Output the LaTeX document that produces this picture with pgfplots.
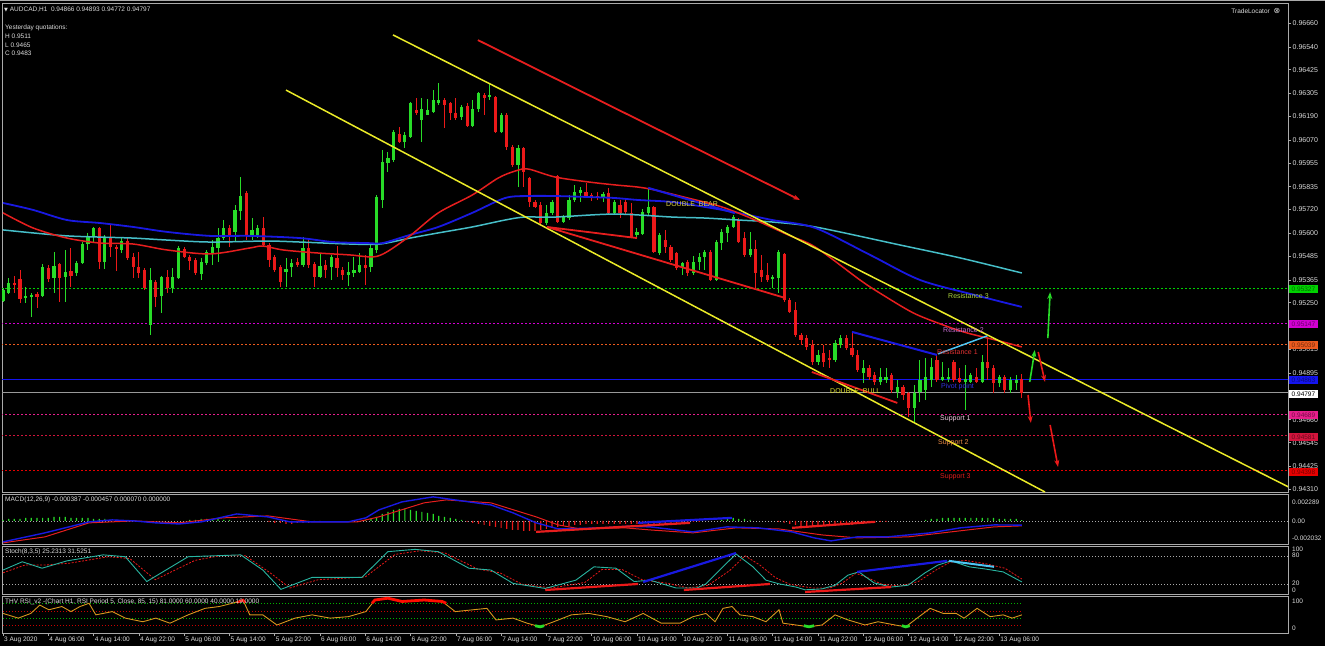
\documentclass[border=0pt]{standalone}
\usepackage{fontspec}
\setmainfont{Liberation Sans}
\newfontfamily\dejavu{DejaVu Sans}
\usepackage{pgfplots}
\usepackage{pgfplotstable}
\pgfplotsset{compat=1.18}
\usetikzlibrary{arrows.meta}

\definecolor{upc}{RGB}{40,220,40}
\definecolor{dnc}{RGB}{235,25,25}
\definecolor{mared}{RGB}{230,30,30}
\definecolor{mablue}{RGB}{25,25,225}
\definecolor{macyan}{RGB}{70,190,200}
\definecolor{yel}{RGB}{235,235,40}
\definecolor{frm}{RGB}{170,170,170}
\definecolor{txt}{RGB}{220,220,220}
\definecolor{r3c}{RGB}{0,210,0}
\definecolor{r2c}{RGB}{210,0,210}
\definecolor{r1c}{RGB}{235,90,30}
\definecolor{pvc}{RGB}{20,20,240}
\definecolor{s1c}{RGB}{230,30,140}
\definecolor{s2c}{RGB}{210,20,60}
\definecolor{s3c}{RGB}{230,0,0}
\definecolor{stm}{RGB}{40,180,160}
\definecolor{rsic}{RGB}{215,150,30}

\newcommand\sm{\fontsize{6.5}{7.5}\selectfont}
\newcommand\md{\fontsize{7}{8}\selectfont}

% AUDCAD H1 candles: k (bar index from 3 Aug 22:00), open, high, low, close
\pgfplotstableread{
k O H L C
0 0.95259 0.95325 0.95254 0.95314
1 0.95299 0.95375 0.95294 0.95350
4 0.95274 0.95330 0.95249 0.95284
5 0.95279 0.95299 0.95178 0.95289
7 0.95284 0.95445 0.95279 0.95430
9 0.95375 0.95506 0.95299 0.95435
11 0.95380 0.95516 0.95254 0.95405
13 0.95400 0.95461 0.95385 0.95450
14 0.95450 0.95556 0.95445 0.95546
15 0.95546 0.95602 0.95516 0.95581
16 0.95581 0.95632 0.95556 0.95627
18 0.95456 0.95592 0.95420 0.95576
21 0.95516 0.95576 0.95501 0.95561
26 0.95138 0.95425 0.95088 0.95365
28 0.95284 0.95385 0.95199 0.95380
30 0.95325 0.95425 0.95299 0.95380
31 0.95375 0.95536 0.95370 0.95526
35 0.95395 0.95476 0.95365 0.95456
36 0.95450 0.95516 0.95440 0.95506
37 0.95501 0.95566 0.95440 0.95531
38 0.95526 0.95627 0.95456 0.95576
39 0.95576 0.95667 0.95566 0.95627
41 0.95607 0.95743 0.95556 0.95718
42 0.95713 0.95884 0.95667 0.95788
44 0.95581 0.95677 0.95566 0.95617
45 0.95592 0.95642 0.95576 0.95627
50 0.95405 0.95476 0.95330 0.95420
51 0.95430 0.95471 0.95380 0.95450
53 0.95440 0.95581 0.95430 0.95526
56 0.95380 0.95501 0.95375 0.95435
58 0.95430 0.95491 0.95365 0.95481
61 0.95390 0.95456 0.95335 0.95405
62 0.95400 0.95481 0.95380 0.95415
63 0.95405 0.95501 0.95400 0.95440
65 0.95430 0.95541 0.95405 0.95526
66 0.95516 0.95793 0.95501 0.95783
67 0.95768 0.96020 0.95728 0.95960
68 0.95955 0.96010 0.95909 0.95980
69 0.95970 0.96121 0.95960 0.96111
71 0.96060 0.96111 0.96030 0.96096
72 0.96086 0.96262 0.96081 0.96257
74 0.96171 0.96282 0.96060 0.96227
75 0.96196 0.96277 0.96196 0.96222
76 0.96212 0.96322 0.96207 0.96272
77 0.96257 0.96358 0.96247 0.96272
81 0.96186 0.96247 0.96171 0.96237
83 0.96141 0.96272 0.96136 0.96227
84 0.96227 0.96312 0.96212 0.96307
86 0.96287 0.96358 0.96272 0.96297
88 0.96111 0.96207 0.96106 0.96196
91 0.95944 0.96045 0.95833 0.96030
96 0.95652 0.95743 0.95642 0.95703
97 0.95703 0.95768 0.95692 0.95758
99 0.95657 0.95692 0.95652 0.95682
100 0.95677 0.95793 0.95667 0.95768
101 0.95768 0.95844 0.95758 0.95808
102 0.95803 0.95833 0.95758 0.95818
106 0.95783 0.95808 0.95758 0.95798
108 0.95703 0.95768 0.95692 0.95758
112 0.95592 0.95627 0.95576 0.95607
113 0.95597 0.95723 0.95592 0.95708
114 0.95703 0.95828 0.95692 0.95733
116 0.95501 0.95602 0.95491 0.95592
120 0.95425 0.95456 0.95390 0.95450
122 0.95400 0.95486 0.95390 0.95456
123 0.95456 0.95501 0.95415 0.95481
124 0.95481 0.95516 0.95415 0.95506
126 0.95365 0.95566 0.95360 0.95556
127 0.95551 0.95622 0.95516 0.95607
128 0.95602 0.95642 0.95556 0.95632
129 0.95632 0.95692 0.95627 0.95682
132 0.95491 0.95607 0.95481 0.95521
136 0.95370 0.95390 0.95325 0.95380
137 0.95375 0.95516 0.95299 0.95506
144 0.94952 0.95012 0.94936 0.94987
147 0.94962 0.95062 0.94952 0.95047
148 0.95037 0.95088 0.95022 0.95072
152 0.94896 0.94962 0.94846 0.94921
155 0.94851 0.94921 0.94836 0.94876
156 0.94861 0.94921 0.94846 0.94876
158 0.94800 0.94861 0.94770 0.94825
161 0.94720 0.94836 0.94649 0.94795
162 0.94800 0.94962 0.94750 0.94861
163 0.94810 0.94972 0.94760 0.94876
164 0.94861 0.94972 0.94826 0.94926
166 0.94861 0.94952 0.94856 0.94876
167 0.94866 0.94921 0.94851 0.94876
170 0.94851 0.94936 0.94710 0.94866
171 0.94851 0.94896 0.94846 0.94886
173 0.94851 0.94987 0.94846 0.94952
176 0.94846 0.94886 0.94826 0.94876
178 0.94810 0.94876 0.94795 0.94861
179 0.94846 0.94886 0.94810 0.94861
}\upt

\pgfplotstableread{
k O H L C
2 0.95350 0.95385 0.95299 0.95340
3 0.95370 0.95415 0.95249 0.95269
6 0.95294 0.95304 0.95224 0.95279
8 0.95425 0.95440 0.95355 0.95370
10 0.95445 0.95450 0.95254 0.95375
12 0.95410 0.95526 0.95330 0.95385
17 0.95627 0.95632 0.95420 0.95456
19 0.95576 0.95642 0.95481 0.95531
20 0.95531 0.95541 0.95410 0.95521
22 0.95561 0.95576 0.95466 0.95476
23 0.95481 0.95501 0.95375 0.95430
24 0.95430 0.95506 0.95375 0.95400
25 0.95415 0.95425 0.95314 0.95325
27 0.95355 0.95365 0.95229 0.95279
29 0.95380 0.95415 0.95299 0.95325
32 0.95521 0.95531 0.95476 0.95481
33 0.95481 0.95491 0.95415 0.95461
34 0.95466 0.95476 0.95390 0.95400
40 0.95627 0.95642 0.95531 0.95581
43 0.95803 0.95813 0.95566 0.95592
46 0.95627 0.95682 0.95531 0.95541
47 0.95541 0.95551 0.95430 0.95466
48 0.95481 0.95491 0.95405 0.95415
49 0.95430 0.95440 0.95330 0.95355
52 0.95456 0.95476 0.95430 0.95440
54 0.95526 0.95566 0.95425 0.95440
55 0.95445 0.95456 0.95330 0.95380
57 0.95440 0.95466 0.95375 0.95415
59 0.95476 0.95536 0.95380 0.95425
60 0.95415 0.95430 0.95365 0.95390
64 0.95440 0.95491 0.95340 0.95425
70 0.96101 0.96136 0.96055 0.96060
73 0.96222 0.96282 0.96196 0.96207
78 0.96272 0.96282 0.96131 0.96247
79 0.96257 0.96262 0.96171 0.96207
80 0.96207 0.96282 0.96171 0.96181
82 0.96242 0.96257 0.96136 0.96141
85 0.96297 0.96307 0.96196 0.96282
87 0.96287 0.96292 0.96106 0.96111
89 0.96196 0.96207 0.96020 0.96035
90 0.96035 0.96045 0.95934 0.95944
92 0.96030 0.96035 0.95833 0.95909
93 0.95879 0.95884 0.95733 0.95758
94 0.95758 0.95768 0.95728 0.95733
95 0.95743 0.95758 0.95642 0.95652
98 0.95889 0.95894 0.95652 0.95657
103 0.95808 0.95854 0.95778 0.95783
104 0.95793 0.95803 0.95763 0.95783
105 0.95788 0.95808 0.95768 0.95778
107 0.95803 0.95828 0.95697 0.95703
109 0.95743 0.95768 0.95677 0.95703
110 0.95758 0.95778 0.95692 0.95708
111 0.95703 0.95753 0.95576 0.95581
115 0.95733 0.95738 0.95501 0.95506
117 0.95566 0.95617 0.95501 0.95531
118 0.95531 0.95541 0.95456 0.95466
119 0.95501 0.95506 0.95415 0.95425
121 0.95456 0.95466 0.95385 0.95400
125 0.95506 0.95516 0.95360 0.95365
130 0.95667 0.95677 0.95551 0.95556
131 0.95576 0.95607 0.95481 0.95491
133 0.95521 0.95566 0.95325 0.95400
134 0.95415 0.95491 0.95355 0.95380
135 0.95390 0.95450 0.95355 0.95365
138 0.95496 0.95501 0.95254 0.95264
139 0.95264 0.95274 0.95199 0.95204
140 0.95214 0.95254 0.95078 0.95088
141 0.95088 0.95098 0.95037 0.95062
142 0.95072 0.95088 0.95012 0.95027
143 0.95037 0.95062 0.94936 0.94952
145 0.94997 0.95037 0.94926 0.94952
146 0.94972 0.95012 0.94921 0.94962
149 0.95072 0.95088 0.95012 0.95022
150 0.95022 0.95103 0.94977 0.94987
151 0.94987 0.95012 0.94901 0.94911
153 0.94921 0.94936 0.94861 0.94876
154 0.94886 0.94901 0.94836 0.94851
157 0.94886 0.94896 0.94795 0.94810
159 0.94825 0.94836 0.94760 0.94785
160 0.94795 0.94800 0.94674 0.94720
165 0.94962 0.94987 0.94851 0.94861
168 0.94952 0.94962 0.94851 0.94861
169 0.94871 0.94921 0.94846 0.94851
172 0.94876 0.94921 0.94846 0.94851
174 0.94952 0.95078 0.94861 0.94921
175 0.94921 0.94936 0.94795 0.94846
177 0.94876 0.94886 0.94795 0.94810
180 0.94866 0.94893 0.94772 0.94797
}\dnt

\pgfplotsset{
  mt/.style={scale only axis, width=1286pt, xmin=-0.18, xmax=227.03,
    axis line style={draw=frm, line width=0.8pt}, xtick=\empty, ytick=\empty},
  wick/.style={draw=none, mark=none, forget plot, error bars/.cd, y dir=both, y explicit,
    error mark=none, error bar style={draw=#1, line width=0.9pt}},
  body/.style={draw=none, mark=none, forget plot, error bars/.cd, y dir=both, y explicit,
    error mark=none, error bar style={draw=#1, line width=3.2pt}},
  lvl/.style={#1, line width=0.8pt, dash pattern=on 2pt off 2pt},
  dots/.style={#1, line width=0.7pt, dash pattern=on 1pt off 2pt},
}

\begin{document}
\begin{tikzpicture}[x=1pt, y=1pt]
\useasboundingbox (0,0) rectangle (1325,646);
\fill[black] (0,0) rectangle (1325,646);
\draw[frm, line width=1pt] (0,645) -- (1325,645);

% ---------- main price window ----------
% tick labels hidden behind the level boxes (0.95130, 0.94780) are left out
\begin{axis}[mt, at={(2pt,154pt)}, anchor=south west, height=489pt,
  ymin=0.94296, ymax=0.96761,
  ytick={0.96660,0.96540,0.96425,0.96305,0.96190,0.96070,0.95955,0.95835,0.95720,0.95600,0.95485,0.95365,0.95250,0.95130,0.95015,0.94895,0.94780,0.94660,0.94545,0.94425,0.94310},
  yticklabels={0.96660,0.96540,0.96425,0.96305,0.96190,0.96070,0.95955,0.95835,0.95720,0.95600,0.95485,0.95365,0.95250,,0.95015,0.94895,,0.94660,0.94545,0.94425,0.94310},
  ytick pos=right, tick align=outside, major tick length=3pt,
  tick style={draw=frm, line width=0.6pt},
  yticklabel style={font=\md, text=txt, inner sep=1.5pt}]

% fibonacci pivot levels
\addplot[lvl=r3c] coordinates {(-1,0.95323) (230,0.95323)};
\addplot[lvl=r2c] coordinates {(-1,0.95147) (230,0.95147)};
\addplot[lvl=r1c] coordinates {(-1,0.95039) (230,0.95039)};
\addplot[pvc, line width=1.8pt] coordinates {(-1,0.94863) (230,0.94863)};
\addplot[gray!80, line width=0.7pt] coordinates {(-1,0.94797) (230,0.94797)};
\addplot[lvl=s1c] coordinates {(-1,0.94687) (230,0.94687)};
\addplot[lvl=s2c] coordinates {(-1,0.94579) (230,0.94579)};
\addplot[lvl=s3c] coordinates {(-1,0.94403) (230,0.94403)};

% candles
\addplot[wick=upc] table[x=k, y expr={(\thisrow{H}+\thisrow{L})/2}, y error expr={(\thisrow{H}-\thisrow{L})/2}] {\upt};
\addplot[wick=dnc] table[x=k, y expr={(\thisrow{H}+\thisrow{L})/2}, y error expr={(\thisrow{H}-\thisrow{L})/2}] {\dnt};
\addplot[body=upc] table[x=k, y expr={(\thisrow{O}+\thisrow{C})/2}, y error expr={max(abs(\thisrow{C}-\thisrow{O})/2,0.000025)}] {\upt};
\addplot[body=dnc] table[x=k, y expr={(\thisrow{O}+\thisrow{C})/2}, y error expr={max(abs(\thisrow{C}-\thisrow{O})/2,0.000025)}] {\dnt};

% moving averages
\addplot[macyan, line width=1.5pt, smooth] coordinates {(0,0.95617) (5.3,0.95602) (11.3,0.95587) (17.1,0.95581) (23,0.95576) (29,0.95566) (36.6,0.95556) (46.6,0.95561) (52.5,0.95556) (61.3,0.95546) (66.6,0.95546) (71.9,0.95576) (76.9,0.95602) (82.9,0.95632) (88.7,0.95667) (92.2,0.95682) (97.5,0.95682) (108.1,0.95697) (118.2,0.95682) (124,0.95677) (129.9,0.95667) (135.9,0.95657) (143.5,0.95632) (158.5,0.95541) (169.1,0.95476) (180,0.95400)};
\addplot[mablue, line width=1.8pt, smooth] coordinates {(0,0.95753) (5.3,0.95718) (11.3,0.95667) (17.1,0.95652) (23,0.95632) (29,0.95607) (36.6,0.95587) (43.6,0.95587) (52.5,0.95576) (58.3,0.95556) (64.3,0.95551) (67.1,0.95551) (71.9,0.95592) (76.9,0.95632) (82.9,0.95703) (88.7,0.95778) (92.8,0.95788) (97.5,0.95788) (103.4,0.95783) (108.1,0.95778) (112.2,0.95768) (118.2,0.95758) (124,0.95733) (129.9,0.95703) (135.9,0.95667) (143.5,0.95627) (153.2,0.95491) (162,0.95365) (171.7,0.95289) (180,0.95229)};
\addplot[mared, line width=1.5pt, smooth] coordinates {(0,0.95703) (5.3,0.95627) (11.3,0.95576) (17.1,0.95551) (23,0.95546) (29,0.95516) (36.6,0.95496) (43.6,0.95526) (45.9,0.95536) (49.5,0.95516) (55.5,0.95501) (61.3,0.95491) (65.4,0.95481) (67.8,0.95506) (71.9,0.95587) (76.9,0.95703) (82.9,0.95793) (87.5,0.95879) (90.5,0.95914) (92.8,0.95924) (97.5,0.95884) (103.4,0.95859) (108.1,0.95844) (112.2,0.95833) (115.2,0.95818) (121,0.95778) (127,0.95733) (132.9,0.95667) (138.7,0.95592) (143.5,0.95531) (151.4,0.95365) (154.9,0.95299) (160.8,0.95199) (166.1,0.95138) (170.3,0.95098) (176.1,0.95057) (180,0.95027)};

% channel and pattern lines
\addplot[yel, line width=1.5pt] coordinates {(68.9,0.96600) (227.5,0.94316)};
\addplot[yel, line width=1.5pt] coordinates {(50.0,0.96322) (184.1,0.94296)};
\addplot[mared, line width=1.8pt, -{Stealth[length=7pt,width=5pt]}] coordinates {(83.9,0.96574) (140.8,0.95768)};
\addplot[mared, line width=1.8pt] coordinates {(112.0,0.95576) (96.1,0.95632) (138.2,0.95274)};
\addplot[mared, line width=1.8pt] coordinates {(142.9,0.94901) (158.0,0.94745)};
\addplot[mablue, line width=2pt] coordinates {(114.0,0.95829) (129.3,0.95702)};
\addplot[mablue, line width=2pt] coordinates {(150.0,0.95103) (165.0,0.94987)};
\addplot[cyan!70!white, line width=1.5pt] coordinates {(165.2,0.94992) (173.9,0.95083)};

% arrows
\addplot[upc, line width=1.6pt, -{Stealth[length=7pt,width=5pt]}] coordinates {(184.6,0.95072) (185.0,0.95304)};
\addplot[upc, line width=1.6pt, -{Stealth[length=7pt,width=5pt]}] coordinates {(181.4,0.94851) (182.3,0.95012)};
\addplot[dnc, line width=1.6pt, -{Stealth[length=7pt,width=5pt]}] coordinates {(182.9,0.95002) (184.1,0.94851)};
\addplot[dnc, line width=1.6pt, -{Stealth[length=7pt,width=5pt]}] coordinates {(181.1,0.94785) (181.6,0.94644)};
\addplot[dnc, line width=1.6pt, -{Stealth[length=7pt,width=5pt]}] coordinates {(185.0,0.94634) (186.4,0.94422)};
\end{axis}

% ---------- MACD window ----------
\begin{axis}[mt, at={(2pt,102pt)}, anchor=south west, height=50pt, ymin=-0.002124, ymax=0.002473]
\addplot[dots=frm] coordinates {(-1,0) (230,0)};
\addplot[ybar, bar width=1.2pt, bar shift=0pt, fill=upc, draw=none] coordinates {(0,0.00009) (1,0.00018) (2,0.00018) (3,0.00018) (4,0.00028) (5,0.00028) (6,0.00028) (7,0.00028) (8,0.00028) (9,0.00037) (10,0.00037) (11,0.00037) (12,0.00028) (13,0.00028) (14,0.00028) (15,0.00028) (16,0.00018) (17,0.00018) (18,0.00018) (19,0.00009) (20,0.00009) (33,0.00009) (34,0.00009) (35,0.00018) (36,0.00018) (37,0.00018) (38,0.00018) (39,0.00009) (40,0.00009) (64,0.00009) (65,0.00018) (66,0.00037) (67,0.00064) (68,0.00083) (69,0.00101) (70,0.0011) (71,0.0011) (72,0.00101) (73,0.00092) (74,0.00083) (75,0.00074) (76,0.00064) (77,0.00046) (78,0.00037) (79,0.00028) (80,0.00018) (81,0.00009) (127,0.00009) (128,0.00018) (129,0.00028) (130,0.00018) (131,0.00018) (132,0.00009) (163,0.00009) (164,0.00018) (165,0.00018) (166,0.00028) (167,0.00028) (168,0.00028) (169,0.00028) (170,0.00028) (171,0.00028) (172,0.00028) (173,0.00028) (174,0.00028) (175,0.00028) (176,0.00018) (177,0.00018) (178,0.00018) (179,0.00018) (180,0.00007)};
\addplot[ybar, bar width=1.2pt, bar shift=0pt, fill=dnc, draw=none] coordinates {(47,-0.00009) (48,-0.00018) (49,-0.00018) (50,-0.00028) (51,-0.00028) (52,-0.00018) (53,-0.00018) (54,-0.00018) (55,-0.00009) (56,-0.00009) (82,-0.00009) (83,-0.00018) (84,-0.00028) (85,-0.00037) (86,-0.00046) (87,-0.00055) (88,-0.00064) (89,-0.00074) (90,-0.00083) (91,-0.00083) (92,-0.00092) (93,-0.00092) (94,-0.00092) (95,-0.00083) (96,-0.00074) (97,-0.00064) (98,-0.00055) (99,-0.00046) (100,-0.00046) (101,-0.00037) (102,-0.00037) (103,-0.00028) (104,-0.00028) (105,-0.00028) (106,-0.00028) (107,-0.00028) (108,-0.00028) (109,-0.00028) (110,-0.00028) (111,-0.00028) (112,-0.00028) (113,-0.00028) (114,-0.00028) (115,-0.00028) (116,-0.00028) (117,-0.00028) (118,-0.00018) (119,-0.00018) (120,-0.00018) (121,-0.00018) (122,-0.00009) (123,-0.00009) (137,-0.00009) (138,-0.00018) (139,-0.00028) (140,-0.00037) (141,-0.00046) (142,-0.00055) (143,-0.00055) (144,-0.00055) (145,-0.00046) (146,-0.00046) (147,-0.00046) (148,-0.00037) (149,-0.00037) (150,-0.00037) (151,-0.00028) (152,-0.00028) (153,-0.00018) (154,-0.00018) (155,-0.00009) (156,-0.00009)};
\addplot[mared, line width=1pt] coordinates {(0,-0.00202) (7.4,-0.00147) (15.2,-0.00018) (23.1,0) (31.1,-0.00018) (38.9,0.00028) (46.8,0.00046) (54.6,-0.00009) (62.6,-0.00009) (66.4,0.00037) (74.4,0.00166) (78.3,0.00193) (86.2,0.00166) (94.2,0.00037) (98.1,-0.00037) (102.0,-0.00074) (109.9,-0.00064) (114.3,-0.00083) (121.9,-0.0011) (129.5,-0.00064) (137.1,-0.00074) (144.7,-0.00129) (150.9,-0.00156) (159.9,-0.00147) (167.5,-0.00101) (175.1,-0.00055) (180,-0.000457)};
\addplot[mablue, line width=1.4pt] coordinates {(0,-0.00193) (7.4,-0.0011) (15.2,-0.00009) (19.3,0.00009) (23.1,0) (27,-0.00018) (31.1,-0.00028) (35,-0.00009) (41.3,0.00064) (46.8,0.00037) (50.7,-0.00009) (61,-0.00009) (64.1,0.00028) (66.4,0.00101) (70.5,0.00175) (76,0.00221) (82.3,0.00175) (86.2,0.00147) (90.1,0.00074) (94.2,-0.00018) (98.1,-0.00074) (106,-0.00064) (110.2,-0.0005) (114.3,-0.00055) (121.9,-0.00101) (127.9,-0.00055) (133.4,-0.00064) (139.4,-0.00101) (143.3,-0.00156) (146.3,-0.00184) (150.9,-0.00147) (156.2,-0.00147) (163.8,-0.0011) (169.1,-0.00064) (175.1,-0.00037) (180,-0.000387)};
\addplot[mared, line width=2.2pt] coordinates {(94.2,-0.00101) (121.4,-0.00018)};
\addplot[mared, line width=2.2pt] coordinates {(139.4,-0.00064) (153.9,-0.00009)};
\addplot[mablue, line width=2.2pt] coordinates {(112.2,-0.00018) (128.8,0.00028)};
\end{axis}

% ---------- Stochastic window ----------
\begin{axis}[mt, at={(2pt,52pt)}, anchor=south west, height=48pt, ymin=-1.1, ymax=103.3]
\addplot[dots=frm] coordinates {(-1,80) (230,80)};
\addplot[dots=frm] coordinates {(-1,20) (230,20)};
\addplot[dnc, line width=0.8pt, dash pattern=on 2pt off 1.5pt] coordinates {(0,45) (3.9,62) (7.6,62) (11.8,66) (18.6,80) (22.4,76) (26.9,30) (33.9,72) (38.3,82) (42.8,82) (47.2,45) (50.7,12) (55.7,30) (64.0,36) (69.3,85) (73.7,93) (78.1,88) (83.9,53) (87.8,45) (91.7,20) (97.0,12) (102.8,24) (105.8,52) (109.4,52) (112.9,30) (117.5,22) (121.0,12) (124.6,18) (128.4,50) (131.1,82) (133.7,62) (136.4,35) (139.0,20) (142.9,12) (146.1,12) (148.2,22) (150.7,44) (152.8,34) (155.3,20) (158.5,16) (161.7,26) (164.7,50) (167.3,68) (170.0,72) (173.5,65) (177.0,55) (180,31.53)};
\addplot[stm, line width=0.9pt] coordinates {(0,51) (3.4,69) (6.9,55) (11.3,71) (17.7,84) (21.6,80) (25.4,26) (32.7,80) (37.3,82) (42.0,84) (45.9,51) (49.1,9) (54.6,35) (63.4,35) (68.0,91) (72.8,96) (76.9,91) (82.3,55) (86.2,51) (90.1,22) (95.8,11) (101.2,29) (104.4,58) (108.3,55) (111.5,26) (114.3,29) (118.9,12) (122.6,12) (124.2,21) (127.2,58) (129.5,86) (132.5,58) (134.8,29) (137.1,21) (140.1,14) (141.7,8) (144.7,10) (147.0,18) (149.3,40) (151.2,47) (153.9,23) (156.9,14) (159.9,18) (162.9,45) (165.2,62) (167.5,71) (170.7,58) (173.7,53) (176.7,47) (180,25.23)};
\addplot[mablue, line width=2.2pt] coordinates {(113.1,25) (129.5,88)};
\addplot[mablue, line width=2.2pt] coordinates {(150.9,47) (166.8,71)};
\addplot[cyan!70!white, line width=2pt] coordinates {(167.1,71) (175.1,58)};
\addplot[dnc, line width=2.2pt] coordinates {(95.8,7.6) (112.2,20.7)};
\addplot[dnc, line width=2.2pt] coordinates {(120.3,7.6) (135.5,20.7)};
\addplot[dnc, line width=2.2pt] coordinates {(141.7,3.3) (156.9,14)};
\end{axis}

% ---------- RSI window ----------
\begin{axis}[mt, at={(2pt,13pt)}, anchor=south west, height=37pt, ymin=-1.1, ymax=101.1,
  xtick={0,8,...,176},
  xticklabels={3 Aug 2020, 4 Aug 06:00, 4 Aug 14:00, 4 Aug 22:00, 5 Aug 06:00, 5 Aug 14:00, 5 Aug 22:00, 6 Aug 06:00, 6 Aug 14:00, 6 Aug 22:00, 7 Aug 06:00, 7 Aug 14:00, 7 Aug 22:00, 10 Aug 06:00, 10 Aug 14:00, 10 Aug 22:00, 11 Aug 06:00, 11 Aug 14:00, 11 Aug 22:00, 12 Aug 06:00, 12 Aug 14:00, 12 Aug 22:00, 13 Aug 06:00},
  xtick pos=left, tick align=outside, major tick length=2.5pt,
  tick style={draw=frm, line width=0.6pt},
  xticklabel style={font=\sm, text=txt, anchor=north west, inner sep=1pt}]
\addplot[dots=green!70!black] coordinates {(0,81) (180,81)};
\addplot[dots=red!80!black] coordinates {(0,60) (180,60)};
\addplot[dots=green!70!black] coordinates {(0,40) (180,40)};
\addplot[dots=red!80!black] coordinates {(0,19) (180,19)};
\addplot[rsic, line width=0.9pt] coordinates {(0,53) (2.7,40) (4.9,53) (6.5,76) (8.1,63) (10.4,72) (12.0,58) (13.6,72) (15.2,81) (16.4,49) (19.3,58) (21.6,40) (24.7,30) (27.0,40) (29.5,26) (32.7,49) (35.7,67) (38.2,72) (40.5,81) (42.4,90) (43.6,49) (45.9,49) (48.4,21) (51.6,40) (54.6,49) (57.8,40) (61.0,44) (64.1,58) (65.7,90) (68.0,95) (70.5,86) (74.4,90) (77.6,86) (79.9,58) (83.0,63) (85.5,67) (87.1,35) (90.1,40) (92.6,26) (94.9,16) (97.3,30) (100.4,49) (103.5,53) (106.7,44) (109.9,30) (113.1,53) (116.3,26) (119.6,26) (121.9,44) (124.2,53) (125.8,30) (127.2,67) (128.8,72) (130.2,49) (132.5,44) (134.8,30) (137.1,63) (137.8,26) (140.1,21) (142.4,16) (144.7,21) (147.0,49) (149.3,35) (152.3,21) (154.6,30) (157.6,21) (159.5,16) (161.5,40) (163.8,67) (166.1,53) (168.4,53) (169.8,40) (172.1,67) (174.4,44) (176.7,49) (178.3,40) (180,49)};
\addplot[red!90!orange, line width=2.8pt] coordinates {(65.2,81) (65.7,90) (68.0,95) (70.5,86) (74.4,90) (77.6,86) (78.3,81)};
\addplot[red!90!orange, line width=2.5pt] coordinates {(41.3,83) (42.4,90) (42.8,83)};
\addplot[upc, line width=2.8pt] coordinates {(94.0,19) (94.9,16) (95.6,19)};
\addplot[upc, line width=2.8pt] coordinates {(141.5,19) (142.4,16) (143.3,19)};
\addplot[upc, line width=2.8pt] coordinates {(158.8,19) (159.5,16) (160.2,19)};
\end{axis}

% ---------- texts ----------
\node[anchor=west, text=txt, font=\sm, inner sep=0] at (4,636) {{\dejavu\fontsize{5}{6}\selectfont ▼}\ AUDCAD,H1\ \ 0.94866 0.94893 0.94772 0.94797};
\node[anchor=west, text=txt, font=\sm, inner sep=0] at (5,618) {Yesterday quotations:};
\node[anchor=west, text=txt, font=\sm, inner sep=0] at (5,610) {H 0.9511};
\node[anchor=west, text=txt, font=\sm, inner sep=0] at (5,601) {L 0.9465};
\node[anchor=west, text=txt, font=\sm, inner sep=0] at (5,593) {C 0.9483};
\node[anchor=east, text=txt, font=\sm, inner sep=0] at (1270,635) {TradeLocator};
\node[text=txt, inner sep=0] at (1277,635) {\dejavu\fontsize{8}{8}\selectfont ⊗};

\node[anchor=west, text=txt, font=\sm, inner sep=0] at (5,146) {MACD(12,26,9) -0.000387 -0.000457 0.000070 0.000000};
\node[anchor=west, text=txt, font=\sm, inner sep=0] at (5,94) {Stoch(8,3,5) 25.2313 31.5251};
\node[anchor=west, text=txt, font=\sm, inner sep=0] at (5,44) {THV RSI\_v2 -(Chart H1, RSI Period 5, Close, 85, 15) 81.0000 60.0000 40.0000 19.0000};

\node[anchor=west, text={rgb,255:red,225;green,215;blue,70}, font=\md, inner sep=0] at (666,442) {DOUBLE\ \ BEAR};
\node[anchor=west, text={rgb,255:red,225;green,225;blue,40}, font=\md, inner sep=0] at (830,255) {DOUBLE\ \ BULL};
\node[anchor=west, text={rgb,255:red,170;green,210;blue,60}, font=\md, inner sep=0] at (948,350) {Resistance 3};
\node[anchor=west, text={rgb,255:red,200;green,110;blue,210}, font=\md, inner sep=0] at (943,316) {Resistance 2};
\node[anchor=west, text={rgb,255:red,225;green,50;blue,50}, font=\md, inner sep=0] at (937,294) {Resistance 1};
\node[anchor=west, text={rgb,255:red,50;green,50;blue,225}, font=\md, inner sep=0] at (941,259) {Pivot point};
\node[anchor=west, text={rgb,255:red,240;green,205;blue,225}, font=\md, inner sep=0] at (940,227) {Support 1};
\node[anchor=west, text={rgb,255:red,235;green,140;blue,70}, font=\md, inner sep=0] at (938,203) {Support 2};
\node[anchor=west, text={rgb,255:red,220;green,30;blue,30}, font=\md, inner sep=0] at (940,169) {Support 3};

% price boxes on the right scale
\tikzset{pbox/.style 2 args={anchor=west, fill=#1, text=#2, font=\sm, inner xsep=2.5pt, inner ysep=1pt, minimum height=8.5pt}}
\node[pbox={r3c}{green!40!black}] at (1289,357) {0.95327};
\node[pbox={r2c}{r2c!50!black}] at (1289,322) {0.95147};
\node[pbox={r1c}{r1c!50!black}] at (1289,301) {0.95039};
\node[pbox={pvc}{pvc!50!black}] at (1289,266) {0.94863};
\node[pbox={white}{black}] at (1289,252) {0.94797};
\node[pbox={s1c}{s1c!50!black}] at (1289,231) {0.94689};
\node[pbox={s2c}{s2c!50!black}] at (1289,209) {0.94581};
\node[pbox={s3c}{s3c!50!black}] at (1289,174) {0.94398};

% indicator scales
\foreach \yy/\tt in {144/0.002289, 125/0.00, 108/-0.002032, 97/100, 91/80, 63/20, 56/0, 45/100, 18/0}
  \node[anchor=west, text=txt, font=\sm, inner sep=0] at (1292,\yy) {\tt};
\end{tikzpicture}
\end{document}
